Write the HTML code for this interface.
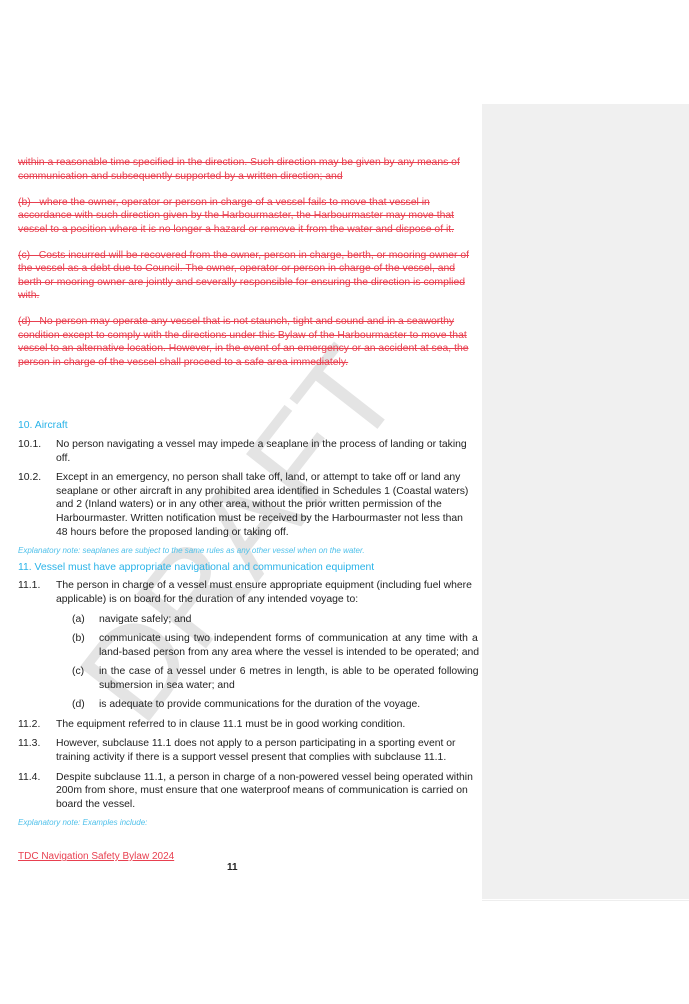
<!DOCTYPE html>
<html><head><meta charset="utf-8"><style>
html,body{margin:0;padding:0;background:#fff;width:689px;height:1004px;overflow:hidden;position:relative;font-family:"Liberation Sans",Arial,sans-serif;}
.l{position:absolute;white-space:nowrap;font-size:10.4px;line-height:12px;color:#222;}
.r{color:#e84050;text-decoration:line-through;}
.b{color:#29b3e8;}
.n{position:absolute;white-space:nowrap;font-size:10.4px;line-height:12px;color:#222;}
.ex{position:absolute;white-space:nowrap;font-size:8px;font-style:italic;color:#4fc0ea;line-height:10px;}
#side{position:absolute;left:482px;top:104px;width:207px;height:795px;background:#f0f0f0;}
#sline{position:absolute;left:482px;top:900px;width:207px;height:1px;background:#eee;}
#wm{position:absolute;left:240px;top:535px;font-size:128px;line-height:128px;color:#e4e4e4;transform:translate(-50%,-50%) rotate(-52deg);white-space:nowrap;z-index:0;}
.t{position:relative;z-index:1;}
</style></head><body>
<div id="side"></div><div id="sline"></div>
<div id="wm">DRAFT</div>
<div class="t">
<div class="l r" style="left:18px;top:157px">within a reasonable time specified in the direction. Such direction may be given by any means of</div>
<div class="l r" style="left:18px;top:171px">communication and subsequently supported by a written direction; and</div>
<div class="l r" style="left:18px;top:197px">(b)&nbsp;&nbsp; where the owner, operator or person in charge of a vessel fails to move that vessel in</div>
<div class="l r" style="left:18px;top:210px">accordance with such direction given by the Harbourmaster, the Harbourmaster may move that</div>
<div class="l r" style="left:18px;top:224px">vessel to a position where it is no longer a hazard or remove it from the water and dispose of it.</div>
<div class="l r" style="left:18px;top:250px">(c)&nbsp;&nbsp; Costs incurred will be recovered from the owner, person in charge, berth, or mooring owner of</div>
<div class="l r" style="left:18px;top:263px">the vessel as a debt due to Council. The owner, operator or person in charge of the vessel, and</div>
<div class="l r" style="left:18px;top:277px">berth or mooring owner are jointly and severally responsible for ensuring the direction is complied</div>
<div class="l r" style="left:18px;top:290px">with.</div>
<div class="l r" style="left:18px;top:316px">(d)&nbsp;&nbsp; No person may operate any vessel that is not staunch, tight and sound and in a seaworthy</div>
<div class="l r" style="left:18px;top:330px">condition except to comply with the directions under this Bylaw of the Harbourmaster to move that</div>
<div class="l r" style="left:18px;top:343px">vessel to an alternative location. However, in the event of an emergency or an accident at sea, the</div>
<div class="l r" style="left:18px;top:357px">person in charge of the vessel shall proceed to a safe area immediately.</div>

<div class="l b" style="left:18px;top:420px">10. Aircraft</div>
<div class="n" style="left:18px;top:439px">10.1.</div>
<div class="l" style="left:56px;top:439px">No person navigating a vessel may impede a seaplane in the process of landing or taking</div>
<div class="l" style="left:56px;top:453px">off.</div>
<div class="n" style="left:18px;top:472px">10.2.</div>
<div class="l" style="left:56px;top:472px">Except in an emergency, no person shall take off, land, or attempt to take off or land any</div>
<div class="l" style="left:56px;top:486px">seaplane or other aircraft in any prohibited area identified in Schedules 1 (Coastal waters)</div>
<div class="l" style="left:56px;top:499px">and 2 (Inland waters) or in any other area, without the prior written permission of the</div>
<div class="l" style="left:56px;top:513px">Harbourmaster. Written notification must be received by the Harbourmaster not less than</div>
<div class="l" style="left:56px;top:527px">48 hours before the proposed landing or taking off.</div>
<div class="ex" style="left:18px;top:546px">Explanatory note: seaplanes are subject to the same rules as any other vessel when on the water.</div>
<div class="l b" style="left:18px;top:562px">11. Vessel must have appropriate navigational and communication equipment</div>
<div class="n" style="left:18px;top:580px">11.1.</div>
<div class="l" style="left:56px;top:580px">The person in charge of a vessel must ensure appropriate equipment (including fuel where</div>
<div class="l" style="left:56px;top:594px">applicable) is on board for the duration of any intended voyage to:</div>
<div class="n" style="left:72px;top:614px">(a)</div>
<div class="l" style="left:99px;top:614px">navigate safely; and</div>
<div class="n" style="left:72px;top:633px">(b)</div>
<div class="l" style="left:99px;top:633px;word-spacing:1.2px">communicate using two independent forms of communication at any time with a</div>
<div class="l" style="left:99px;top:647px">land-based person from any area where the vessel is intended to be operated; and</div>
<div class="n" style="left:72px;top:666px">(c)</div>
<div class="l" style="left:99px;top:666px;word-spacing:0.8px">in the case of a vessel under 6 metres in length, is able to be operated following</div>
<div class="l" style="left:99px;top:680px">submersion in sea water; and</div>
<div class="n" style="left:72px;top:699px">(d)</div>
<div class="l" style="left:99px;top:699px">is adequate to provide communications for the duration of the voyage.</div>
<div class="n" style="left:18px;top:719px">11.2.</div>
<div class="l" style="left:56px;top:719px">The equipment referred to in clause 11.1 must be in good working condition.</div>
<div class="n" style="left:18px;top:738px">11.3.</div>
<div class="l" style="left:56px;top:738px">However, subclause 11.1 does not apply to a person participating in a sporting event or</div>
<div class="l" style="left:56px;top:752px">training activity if there is a support vessel present that complies with subclause 11.1.</div>
<div class="n" style="left:18px;top:772px">11.4.</div>
<div class="l" style="left:56px;top:772px">Despite subclause 11.1, a person in charge of a non-powered vessel being operated within</div>
<div class="l" style="left:56px;top:785px">200m from shore, must ensure that one waterproof means of communication is carried on</div>
<div class="l" style="left:56px;top:799px">board the vessel.</div>
<div class="ex" style="left:18px;top:818px">Explanatory note: Examples include:</div>
<div class="l" style="left:18px;top:851px;color:#e84050;text-decoration:underline;font-size:10px">TDC Navigation Safety Bylaw 2024</div>
<div class="l" style="left:227px;top:862px;font-size:10px;font-weight:bold">11</div>
</div>
</body></html>
